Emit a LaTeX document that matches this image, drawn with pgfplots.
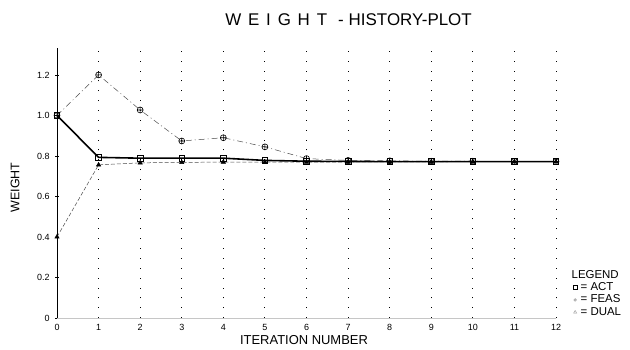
\documentclass[border=0pt]{standalone}
\usepackage{pgfplots}
\pgfplotsset{compat=1.18}
\usepackage{fontspec}
\setmainfont{Liberation Sans}
\begin{document}
\begin{tikzpicture}
\begin{axis}[
  scale only axis,
  width=499bp, height=270bp,
  xmin=0, xmax=12, ymin=0, ymax=1.333,
  axis x line=bottom, axis y line=left,
  x axis line style={-, gray!45, line width=0.8pt},
  y axis line style={-, black, line width=0.9pt},
  xtick={0,...,12},
  ytick={0,0.2,0.4,0.6,0.8,1.0,1.2},
  yticklabels={0,0.2,0.4,0.6,0.8,1.0,1.2},
  xmajorgrids,
  grid style={black, line width=0.9pt, dash pattern=on 0.9pt off 9pt},
  major tick length=4pt,
  tick align=center,
  xtick style={draw=none},
  ytick style={black, line width=0.6pt},
  tick label style={font=\fontsize{9}{10}\selectfont},
  /pgf/number format/assume math mode=true,
  xticklabel style={yshift=-1bp},
  yticklabel style={xshift=-2bp},
  every axis y label/.style={at={(axis description cs:-0.084,0.483)}, rotate=90, anchor=center, font=\fontsize{12.5}{13}\selectfont},
  every axis x label/.style={at={(axis description cs:0.495,-0.081)}, anchor=center, font=\fontsize{13}{14}\selectfont},
  ylabel={WEIGHT},
  xlabel={ITERATION NUMBER},
  title={W\hspace{6.8bp}E\hspace{6.8bp}I\hspace{6.8bp}G\hspace{6.8bp}H\hspace{6.8bp}T\hspace{11bp}-\hspace{5bp}HISTORY-PLOT},
  every axis title/.style={at={(axis description cs:0.337,1.085)}, anchor=base west, inner sep=0pt, font=\fontsize{17}{19}\selectfont},
  legend style={at={(axis description cs:1.034,0.181)}, anchor=north west, draw=none, fill=none,
    inner sep=0pt, row sep=0.3bp, font=\fontsize{11.5}{12}\selectfont,
    nodes={inner sep=0.5bp, text height=8.5bp, text depth=2.5bp},
    /tikz/every odd column/.style={column sep=3bp}},
  legend image code/.code={\draw[#1] plot coordinates {(0cm,0cm)};},
  legend cell align=left,
]
% FEAS
\addplot[black!70, line width=0.5pt, dash pattern=on 6pt off 3pt on 1pt off 3pt, mark=oplus, mark size=3pt, mark options={solid, black, line width=0.6pt}, forget plot]
coordinates {(0,1.0)(1,1.2)(2,1.027)(3,0.874)(4,0.89)(5,0.845)(6,0.787)(7,0.778)(8,0.776)(9,0.774)(10,0.774)(11,0.773)(12,0.772)};
% DUAL
\addplot[black!70, line width=0.5pt, dash pattern=on 4pt off 2pt, mark=triangle*, mark size=2.5pt, mark options={solid, black}, forget plot]
coordinates {(0,0.40)(1,0.756)(2,0.766)(3,0.768)(4,0.77)(5,0.77)(6,0.77)(7,0.77)(8,0.771)(9,0.771)(10,0.772)(11,0.772)(12,0.772)};
% ACT
\addplot[black, line width=1.6pt, mark=square, mark size=2.8pt, mark options={solid, line width=0.7pt}, forget plot]
coordinates {(0,1.0)(1,0.793)(2,0.789)(3,0.789)(4,0.789)(5,0.778)(6,0.774)(7,0.773)(8,0.772)(9,0.772)(10,0.772)(11,0.772)(12,0.772)};
\addlegendimage{empty legend}
\addlegendentry{\hspace{-9bp}LEGEND}
\addlegendimage{only marks, mark=square, mark size=2pt, black, line width=0.7pt}
\addlegendentry{= ACT}
\addlegendimage{only marks, mark=oplus, mark size=1.5pt, black!30}
\addlegendentry{= FEAS}
\addlegendimage{only marks, mark=triangle, mark size=1.8pt, black!40}
\addlegendentry{= DUAL}
\end{axis}
\path (-57bp,-32bp) rectangle (573bp,318bp);
\end{tikzpicture}
\end{document}
